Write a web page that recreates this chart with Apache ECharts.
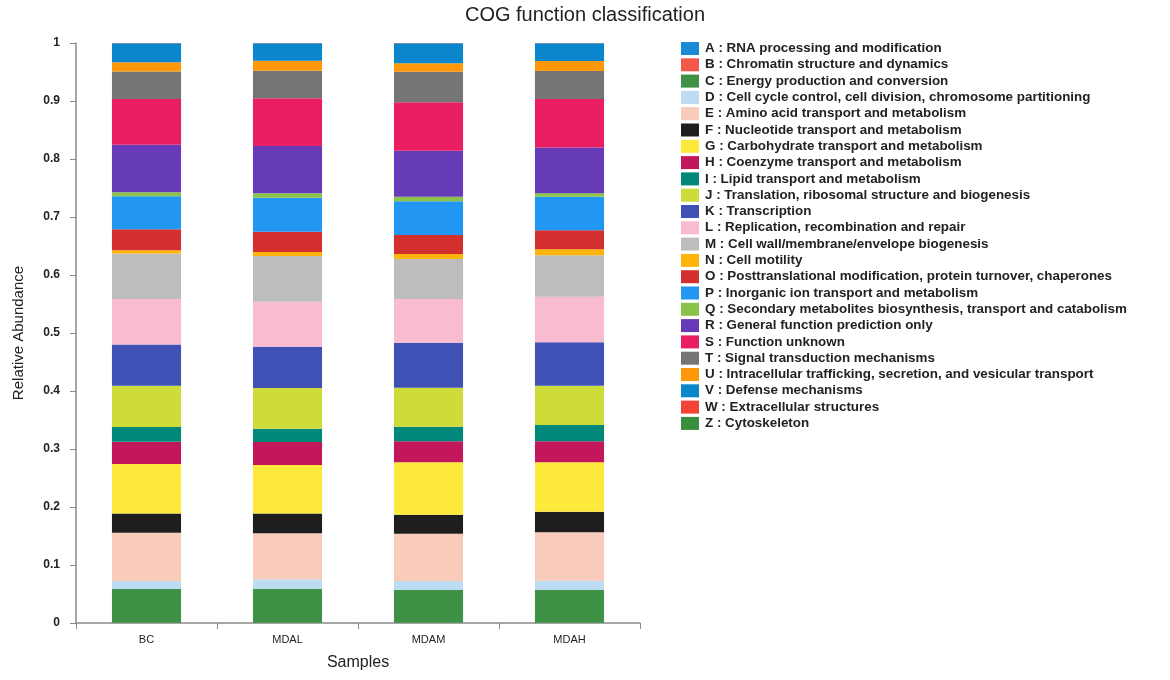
<!DOCTYPE html>
<html>
<head>
<meta charset="utf-8">
<script src="https://cdn.jsdelivr.net/npm/echarts@6/dist/echarts.min.js"></script>
<style>
html,body{margin:0;padding:0;background:#fff;}
#chart{width:1170px;height:680px;}
</style>
</head>
<body>
<div id="chart"></div>
<script>
const samples = ['BC', 'MDAL', 'MDAM', 'MDAH'];
const cogLabels = [
  'A : RNA processing and modification',
  'B : Chromatin structure and dynamics',
  'C : Energy production and conversion',
  'D : Cell cycle control, cell division, chromosome partitioning',
  'E : Amino acid transport and metabolism',
  'F : Nucleotide transport and metabolism',
  'G : Carbohydrate transport and metabolism',
  'H : Coenzyme transport and metabolism',
  'I : Lipid transport and metabolism',
  'J : Translation, ribosomal structure and biogenesis',
  'K : Transcription',
  'L : Replication, recombination and repair',
  'M : Cell wall/membrane/envelope biogenesis',
  'N : Cell motility',
  'O : Posttranslational modification, protein turnover, chaperones',
  'P : Inorganic ion transport and metabolism',
  'Q : Secondary metabolites biosynthesis, transport and catabolism',
  'R : General function prediction only',
  'S : Function unknown',
  'T : Signal transduction mechanisms',
  'U : Intracellular trafficking, secretion, and vesicular transport',
  'V : Defense mechanisms',
  'W : Extracellular structures',
  'Z : Cytoskeleton'
];
const cogColors = [
  '#1a8ad6', '#f4564a', '#3f9145', '#bddcf4', '#f9cbba', '#1e1e1e',
  '#fde93c', '#c2185b', '#00897b', '#cddc39', '#3f51b5', '#f8bbd0',
  '#bdbdbd', '#ffb40a', '#d32f2f', '#2196f3', '#8bc34a', '#673ab7',
  '#e91e63', '#757575', '#ff9808', '#0a86cc', '#f44336', '#388e3c'
];
// relative abundance per COG class, order A..Z
const valuesBC   = [0.0004, 0.0002, 0.0580, 0.0138, 0.0833, 0.0333, 0.0850, 0.0386, 0.0254, 0.0710, 0.0710, 0.0786, 0.0784, 0.0055, 0.0365, 0.0566, 0.0069, 0.0822, 0.0787, 0.0476, 0.0160, 0.0325, 0.0003, 0.0002];
const valuesMDAL = [0.0004, 0.0002, 0.0586, 0.0161, 0.0793, 0.0344, 0.0834, 0.0396, 0.0230, 0.0700, 0.0714, 0.0776, 0.0788, 0.0069, 0.0350, 0.0586, 0.0075, 0.0816, 0.0822, 0.0477, 0.0172, 0.0300, 0.0003, 0.0002];
const valuesMDAM = [0.0004, 0.0002, 0.0563, 0.0155, 0.0816, 0.0328, 0.0902, 0.0362, 0.0253, 0.0673, 0.0775, 0.0753, 0.0690, 0.0084, 0.0330, 0.0580, 0.0080, 0.0794, 0.0833, 0.0529, 0.0144, 0.0345, 0.0003, 0.0002];
const valuesMDAH = [0.0004, 0.0002, 0.0563, 0.0161, 0.0833, 0.0357, 0.0850, 0.0362, 0.0282, 0.0676, 0.0750, 0.0786, 0.0714, 0.0103, 0.0327, 0.0580, 0.0058, 0.0792, 0.0834, 0.0483, 0.0173, 0.0305, 0.0003, 0.0002];
const yTicks = [0, 0.1, 0.2, 0.3, 0.4, 0.5, 0.6, 0.7, 0.8, 0.9, 1];

const bySample = [valuesBC, valuesMDAL, valuesMDAM, valuesMDAH];
const series = cogLabels.map((name, i) => ({
  name: name,
  type: 'bar',
  stack: 'total',
  barWidth: '49%',
  itemStyle: { color: cogColors[i] },
  emphasis: { disabled: true },
  data: bySample.map(arr => arr[i])
}));

const chart = echarts.init(document.getElementById('chart'), null, { renderer: 'canvas' });
chart.setOption({
  animation: false,
  backgroundColor: '#ffffff',
  title: {
    text: 'COG function classification',
    left: 'center',
    top: 0,
    textStyle: { fontFamily: 'Liberation Sans', fontSize: 20, fontWeight: 'normal', color: '#222' }
  },
  legend: {
    orient: 'vertical',
    left: 676,
    top: 37,
    itemWidth: 18,
    itemHeight: 13,
    itemGap: 3.3,
    icon: 'rect',
    selectedMode: false,
    data: cogLabels,
    textStyle: { fontFamily: 'Liberation Sans', fontSize: 13.4, fontWeight: 'bold', color: '#222', lineHeight: 13, padding: [0, 0, 0, 1] }
  },
  grid: { left: 76, top: 43, width: 564, height: 580, containLabel: false },
  xAxis: {
    type: 'category',
    data: samples,
    name: 'Samples',
    nameLocation: 'middle',
    nameGap: 32,
    nameTextStyle: { fontFamily: 'Liberation Sans', fontSize: 16, color: '#222' },
    axisLine: { lineStyle: { color: '#8a8a8a', width: 1.5 } },
    axisTick: { show: true, length: 6, lineStyle: { color: '#8a8a8a' } },
    axisLabel: { fontFamily: 'Liberation Sans', fontSize: 11, color: '#222', margin: 11 }
  },
  yAxis: {
    type: 'value',
    min: 0,
    max: 1,
    interval: 0.1,
    name: 'Relative Abundance',
    nameLocation: 'middle',
    nameGap: 50,
    nameTextStyle: { fontFamily: 'Liberation Sans', fontSize: 15, color: '#222' },
    axisLine: { show: true, lineStyle: { color: '#8a8a8a', width: 1.5 } },
    axisTick: { show: true, length: 6, lineStyle: { color: '#8a8a8a' } },
    splitLine: { show: false },
    axisLabel: {
      fontFamily: 'Liberation Sans', fontSize: 12, fontWeight: 'bold', color: '#222', margin: 16,
      formatter: function (v) {
        const t = yTicks.find(x => Math.abs(x - v) < 1e-9);
        return String(t !== undefined ? t : v);
      }
    }
  },
  series: series
});
</script>
</body>
</html>
